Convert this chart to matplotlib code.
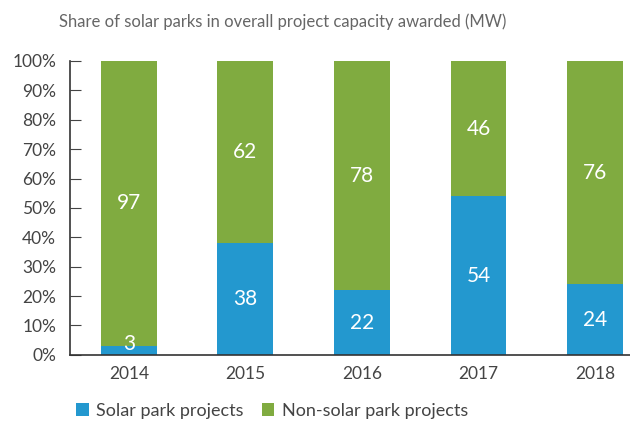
import numpy as np
from matplotlib import pyplot as plt

years = ['2014', '2015', '2016', '2017', '2018']
solar = [3, 38, 22, 54, 24]
non_solar = [97, 62, 78, 46, 76]

blue = '#2398cf'
green = '#80ab40'
grey = '#444444'

plt.rcParams['font.family'] = ['Lato', 'DejaVu Sans']

fig = plt.figure(figsize=(6.3, 4.23), dpi=100)
ax = fig.add_axes([0.111, 0.161, 0.889, 0.695])

x = np.arange(len(years))
width = 0.48
ax.bar(x, solar, width, color=blue, label='Solar park projects')
ax.bar(x, non_solar, width, bottom=solar, color=green, label='Non-solar park projects')

for xi, s, n in zip(x, solar, non_solar):
    ax.text(xi, s / 2 if s > 10 else 0.2, str(s), ha='center',
            va='center' if s > 10 else 'bottom', color='white', fontsize=15)
    ax.text(xi, s + n / 2, str(n), ha='center', va='center', color='white', fontsize=15)

ax.set_ylim(0, 100)
ax.set_xlim(-0.506, 4.3)
ax.set_yticks(np.arange(0, 101, 10))
ax.set_yticklabels(['{}%'.format(v) for v in range(0, 101, 10)])
ax.set_xticks(x)
ax.set_xticklabels(years)
ax.tick_params(axis='y', direction='in', length=8, colors=grey, labelsize=12.5, pad=10)
ax.tick_params(axis='x', length=0, colors=grey, labelsize=12.5, pad=8)
for side in ['top', 'right']:
    ax.spines[side].set_visible(False)
for side in ['left', 'bottom']:
    ax.spines[side].set_color('#333333')
    ax.spines[side].set_linewidth(1.2)

fig.text(59 / 630, 1 - 22 / 423, 'Share of solar parks in overall project capacity awarded (MW)',
         ha='left', va='center', fontsize=12, color='#666666')

fig.legend(loc='center left', bbox_to_anchor=(60 / 630, 1 - 411 / 423), ncol=2, frameon=False,
           fontsize=13, handlelength=0.7, handleheight=0.7, handletextpad=0.4,
           columnspacing=1.0, labelcolor=grey)

fig.savefig('out.png', dpi=100)
